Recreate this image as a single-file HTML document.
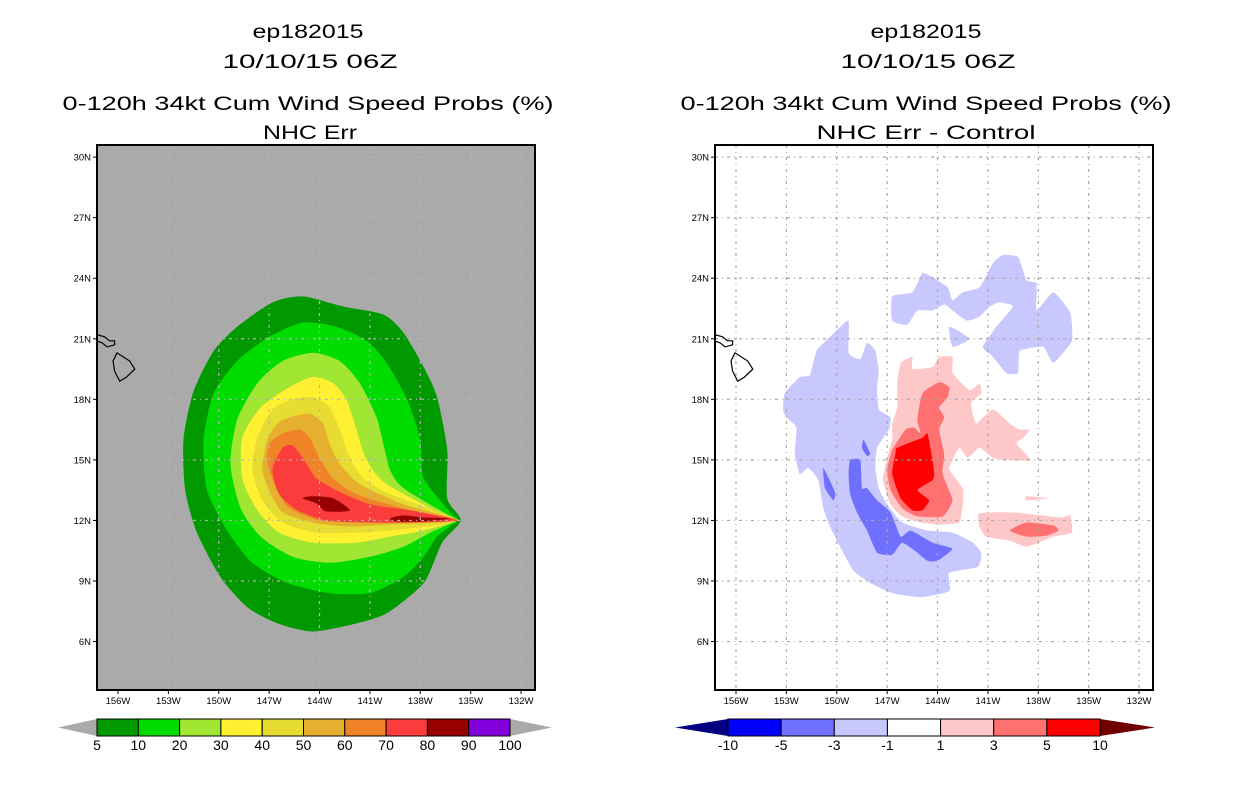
<!DOCTYPE html>
<html><head><meta charset="utf-8"><style>
html,body{margin:0;padding:0;background:#fff;}
svg{display:block;}
text{font-family:"Liberation Sans",sans-serif;}
</style></head><body>
<svg id="root" width="1236" height="800" viewBox="0 0 1236 800" xmlns="http://www.w3.org/2000/svg">
<defs>
<clipPath id="clipL"><rect x="97" y="145" width="438" height="545"/></clipPath>
<clipPath id="clipR"><rect x="715" y="145" width="438" height="545"/></clipPath>
</defs>
<g fill="#000" font-size="19" text-anchor="middle">
<text x="308" y="38" textLength="111" lengthAdjust="spacingAndGlyphs">ep182015</text>
<text x="310" y="68" textLength="175" lengthAdjust="spacingAndGlyphs">10/10/15 06Z</text>
<text x="308" y="110" textLength="491" lengthAdjust="spacingAndGlyphs">0-120h 34kt Cum Wind Speed Probs (%)</text>
<text x="310" y="139" textLength="94" lengthAdjust="spacingAndGlyphs">NHC Err</text>
</g>
<g fill="#000" font-size="19" text-anchor="middle">
<text x="926" y="38" textLength="111" lengthAdjust="spacingAndGlyphs">ep182015</text>
<text x="928" y="68" textLength="175" lengthAdjust="spacingAndGlyphs">10/10/15 06Z</text>
<text x="926" y="110" textLength="491" lengthAdjust="spacingAndGlyphs">0-120h 34kt Cum Wind Speed Probs (%)</text>
<text x="926" y="139" textLength="219" lengthAdjust="spacingAndGlyphs">NHC Err - Control</text>
</g>
<g id="panelL"></g>
<g id="panelR"></g>
<g id="legL"></g>
<g id="legR"></g>
</svg>
<script>
// axis tick values
const lonTicks = [156,153,150,147,144,141,138,135,132];
const latTicks = [30,27,24,21,18,15,12,9,6];
// left panel contour levels (outer to inner), polygons in [lonW, latN]
const probLevels = [5,10,20,30,40,50,60,70,80];
const probColors = ['#009900','#00dc00','#a0e632','#fff032','#e6dc32','#e6af2d','#f08228','#fa3c3c','#960000'];
const prob5 = [[146.8,22.8],[145.0,23.1],[142.6,22.6],[140.2,22.2],[139.0,21.3],[137.8,19.6],[137.0,18.1],[136.4,15.5],[136.4,13.1],[135.6,12.0],[136.7,10.9],[137.8,8.9],[140.0,7.4],[141.8,6.9],[144.4,6.5],[146.5,6.9],[148.3,7.7],[149.9,9.2],[151.3,11.4],[152.0,13.5],[152.1,16.0],[151.5,18.4],[150.3,20.4],[148.9,21.6]];
const prob10 = [[147.0,21.1],[145.0,21.8],[143.0,21.6],[141.2,20.9],[140.0,19.8],[138.8,18.0],[138.0,16.0],[137.8,14.1],[136.2,12.4],[135.8,12.0],[137.0,11.2],[137.8,10.2],[139.0,9.2],[141.0,8.4],[143.4,8.4],[145.9,8.9],[148.0,9.9],[149.5,11.5],[150.7,13.5],[150.9,16.0],[150.3,18.3],[148.9,19.9]];
const prob20 = [[146.2,19.9],[144.4,20.3],[142.8,19.9],[141.6,18.8],[140.6,17.1],[140.2,15.8],[139.8,14.5],[139.0,13.6],[136.2,12.2],[135.8,12.0],[137.4,11.4],[139.0,10.7],[141.0,10.2],[143.4,9.9],[145.6,10.2],[147.5,11.2],[148.7,12.6],[149.3,14.8],[148.9,17.0],[147.7,18.8]];
const prob30 = [[145.8,18.6],[144.4,19.1],[143.2,18.8],[142.4,18.0],[141.8,16.5],[141.2,15.0],[140.0,13.8],[136.2,12.1],[135.8,12.0],[137.8,11.5],[139.8,11.2],[141.8,10.9],[144.4,10.9],[146.4,11.4],[147.7,12.5],[148.6,14.1],[148.6,16.1],[147.5,17.6]];
const prob40 = [[145.6,18.0],[144.4,18.1],[143.4,17.6],[142.8,16.5],[142.2,15.1],[141.4,14.1],[139.8,13.3],[135.8,12.0],[139.8,11.5],[141.8,11.4],[144.2,11.4],[146.2,11.9],[147.4,13.0],[148.0,14.5],[147.7,16.1],[146.8,17.5]];
const prob50 = [[145.8,17.1],[144.6,17.3],[143.8,16.8],[143.4,15.8],[142.8,14.8],[141.6,13.8],[139.0,12.8],[135.8,12.0],[139.8,11.8],[142.2,11.7],[144.4,11.9],[146.2,12.4],[147.0,13.5],[147.4,14.6],[147.1,16.0],[146.5,16.8]];
const prob60 = [[146.2,16.3],[145.2,16.5],[144.6,16.1],[144.0,15.1],[143.2,14.1],[141.8,13.3],[139.0,12.6],[135.8,12.0],[139.4,11.9],[141.8,11.9],[144.0,12.0],[145.8,12.6],[146.5,13.5],[147.1,14.8],[147.0,15.8]];
const prob70 = [[146.2,15.6],[145.6,15.7],[145.0,15.1],[144.2,14.1],[143.0,13.5],[141.0,12.8],[138.6,12.5],[135.8,12.0],[138.6,11.9],[141.0,11.9],[143.6,12.0],[145.3,12.5],[146.4,13.3],[146.8,14.5]];
const prob80a = [[145.0,13.1],[144.4,13.2],[143.2,13.1],[142.2,12.5],[143.6,12.45],[144.2,12.85]];
const prob80b = [[139.8,12.1],[139.0,12.25],[137.8,12.15],[136.2,12.1],[137.8,11.95],[139.4,11.95]];
// right panel difference contours
const diffNeg3 = [[153.2,17.5],[153.1,18.3],[152.2,19.1],[151.6,19.2],[151.2,20.4],[150.4,21.1],[149.3,21.9],[149.3,20.3],[148.6,20.0],[148.2,20.8],[147.7,20.4],[147.5,19.4],[147.6,18.6],[147.5,17.5],[146.8,17.1],[146.9,16.5],[147.6,15.6],[147.7,14.6],[147.5,13.6],[147.0,12.8],[146.1,11.9],[144.6,11.5],[143.1,11.4],[141.9,10.9],[141.4,10.4],[141.6,9.7],[143.3,9.4],[143.3,8.5],[145.0,8.2],[146.7,8.4],[148.0,8.9],[149.0,9.5],[149.8,10.7],[150.4,11.7],[150.8,12.6],[151.1,14.0],[151.7,14.6],[152.2,14.3],[152.5,15.3],[152.4,16.6],[153.0,17.1]];
const diffNeg3Upper = [[146.7,23.1],[145.5,23.3],[144.9,24.25],[144.3,24.05],[143.4,23.55],[143.1,22.9],[142.5,23.3],[141.5,23.55],[140.7,24.75],[140.1,25.15],[139.2,25.05],[138.7,23.9],[138.1,23.75],[138.1,22.4],[137.1,23.3],[136.1,22.3],[136.0,20.9],[137.1,19.8],[137.7,20.6],[139.1,20.4],[139.2,19.3],[139.9,19.3],[140.7,20.1],[141.3,20.6],[140.5,21.6],[139.5,22.6],[140.3,22.8],[140.9,22.6],[141.5,22.1],[142.25,21.9],[143.1,22.4],[143.6,22.7],[144.3,22.4],[145.2,22.4],[145.8,21.7],[146.7,21.9]];
const diffNeg3Piece = [[143.3,21.6],[142.1,21.0],[143.1,20.6]];
const diffNeg5 = [[149.2,15.0],[148.6,15.0],[148.5,13.6],[148.2,13.6],[147.6,13.0],[146.8,12.4],[146.2,11.2],[145.6,11.5],[144.3,10.9],[143.1,10.6],[144.0,10.0],[144.6,10.0],[145.2,10.4],[146.1,10.9],[146.7,10.3],[147.6,10.4],[148.2,11.5],[148.8,12.4],[149.2,13.3],[149.3,14.3]];
const diffNeg5b = [[150.8,14.6],[150.1,13.4],[150.2,13.0],[150.7,13.6]];
const diffNeg5c = [[148.4,16.0],[148.0,15.3],[148.2,15.2],[148.5,15.6]];
const diffPos1 = [[146.4,18.8],[146.2,19.8],[145.5,20.1],[145.5,19.5],[144.3,19.6],[143.9,20.1],[143.1,20.1],[143.1,19.3],[142.1,18.45],[141.5,18.8],[141.4,18.3],[142.0,17.8],[141.7,16.8],[140.7,17.5],[139.7,16.8],[139.1,16.5],[138.5,16.5],[138.9,16.1],[139.3,15.8],[138.5,15.0],[140.1,15.0],[140.7,15.1],[141.5,15.6],[142.2,15.1],[142.7,15.6],[143.1,15.0],[143.3,14.5],[142.5,13.6],[142.5,12.8],[142.7,11.9],[143.9,11.8],[145.0,11.9],[146.1,12.2],[146.8,12.8],[147.25,14.0],[147.0,15.1],[146.7,16.0],[146.7,16.8],[146.4,17.6]];
const diffPos1b = [[141.5,12.35],[139.5,12.4],[136.7,12.15],[136.1,12.25],[136.0,11.4],[137.1,11.2],[138.7,10.7],[139.7,11.0],[141.1,11.2],[141.5,11.7]];
const diffPos1c = [[138.7,13.2],[137.4,13.1],[138.7,13.0]];
const diffPos3 = [[146.7,15.5],[145.9,16.5],[145.4,16.6],[145.0,16.3],[145.2,17.0],[144.9,18.3],[143.9,18.85],[143.3,18.6],[143.4,18.1],[143.9,17.6],[143.6,17.1],[143.9,16.5],[143.6,15.3],[143.7,14.3],[143.1,13.0],[143.7,12.2],[145.2,12.2],[146.1,12.6],[146.8,13.5],[147.0,14.5]];
const diffPos3b = [[139.7,11.5],[138.7,11.9],[137.1,11.75],[136.8,11.5],[137.5,11.25],[138.7,11.2]];
const diffPos5 = [[146.4,15.6],[144.9,16.1],[144.6,16.3],[144.3,15.0],[144.2,14.3],[144.3,14.0],[145.2,13.5],[144.5,13.0],[144.9,12.5],[145.5,12.5],[146.2,13.1],[146.7,14.3],[146.5,15.3]];
// Hawaii coastline
const bigIsland = [[156.06,20.3],[155.3,19.9],[155.0,19.5],[155.5,19.1],[155.9,18.9],[156.2,19.4],[156.3,19.9]];
const mauiGroup = [[157.25,21.2],[156.8,21.1],[156.5,20.9],[156.2,20.9],[156.2,20.7],[156.65,20.6],[156.95,20.8],[157.3,20.9]];
// colorbar labels
const probLabels = ['5','10','20','30','40','50','60','70','80','90','100'];
const probBarColors = ['#009900','#00dc00','#a0e632','#fff032','#e6dc32','#e6af2d','#f08228','#fa3c3c','#960000','#8200dc'];
const diffLabels = ['-10','-5','-3','-1','1','3','5','10'];
const diffBarColors = ['#0000ff','#7070ff','#c8c8ff','#ffffff','#ffc8c8','#ff7070','#ff0000'];

const NS='http://www.w3.org/2000/svg';
function mk(tag,attrs,parent){const e=document.createElementNS(NS,tag);for(const k in attrs)e.setAttribute(k,attrs[k]);parent.appendChild(e);return e;}
const W0=157.25,W1=131.17,N0=30.6,N1=3.6,PW=438,PH=545,PY=145;
function xScale(ox,lonW){return ox+(W0-lonW)/(W0-W1)*PW;}
function yScale(lat){return PY+(N0-lat)/(N0-N1)*PH;}
function pts(ox,poly){return poly.map(p=>xScale(ox,p[0]).toFixed(1)+','+yScale(p[1]).toFixed(1)).join(' ');}
function smoothPath(ox,poly,t){
  const P=poly.map(p=>[xScale(ox,p[0]),yScale(p[1])]);const n=P.length;
  let d='M'+P[0][0].toFixed(1)+','+P[0][1].toFixed(1);
  for(let i=0;i<n;i++){
    const p0=P[(i-1+n)%n],p1=P[i],p2=P[(i+1)%n],p3=P[(i+2)%n];
    const c1=[p1[0]+(p2[0]-p0[0])*t,p1[1]+(p2[1]-p0[1])*t];
    const c2=[p2[0]-(p3[0]-p1[0])*t,p2[1]-(p3[1]-p1[1])*t];
    d+=' C'+c1[0].toFixed(1)+','+c1[1].toFixed(1)+' '+c2[0].toFixed(1)+','+c2[1].toFixed(1)+' '+p2[0].toFixed(1)+','+p2[1].toFixed(1);
  }
  return d+'Z';
}

function drawPanel(gid,ox,clip,bg,gridCol,fills,smooth){
  const g=document.getElementById(gid);
  const bgR=mk('rect',{x:ox,y:PY,width:PW,height:PH,fill:bg},g);
  
  
  const cg=mk('g',{'clip-path':'url(#'+clip+')'},g);
  
  
  fills.forEach(f=>{
    const p=mk('path',{d:smoothPath(ox,f.poly,smooth),fill:f.color},cg);
    
    
  });
  const gg=mk('g',{stroke:gridCol,'stroke-width':1.2,'stroke-dasharray':'3,4,1,4',fill:'none'},g);
  
  
  lonTicks.forEach(l=>{const x=xScale(ox,l);const ln=mk('line',{x1:x,x2:x,y1:PY,y2:PY+PH},gg);
    
    });
  latTicks.forEach(l=>{const y=yScale(l);const ln=mk('line',{x1:ox,x2:ox+PW,y1:y,y2:y},gg);
    
    });
  const coast=mk('g',{'clip-path':'url(#'+clip+')',fill:'none',stroke:'#000','stroke-width':1.2},g);
  
  
  [bigIsland,mauiGroup].forEach(isl=>{const p=mk('polygon',{points:pts(ox,isl)},coast);
    
    });
  const fr=mk('rect',{x:ox,y:PY,width:PW,height:PH,fill:'none',stroke:'#000','stroke-width':2},g);
  
  
  const ax=mk('g',{'font-size':9.5,fill:'#000'},g);
  
  
  lonTicks.forEach(l=>{const x=xScale(ox,l);
    const t=mk('text',{x:x,y:PY+PH+14,'text-anchor':'middle'},ax);t.textContent=l+'W';
    
    
    const tk=mk('line',{x1:x,x2:x,y1:PY+PH,y2:PY+PH+4,stroke:'#000'},ax);
    
    });
  latTicks.forEach(l=>{const y=yScale(l);
    const t=mk('text',{x:ox-6,y:y+3.5,'text-anchor':'end'},ax);t.textContent=l+'N';
    
    
    const tk=mk('line',{x1:ox-4,x2:ox,y1:y,y2:y,stroke:'#000'},ax);
    
    });
}
const probPolys=[prob5,prob10,prob20,prob30,prob40,prob50,prob60,prob70];
const leftFills=probPolys.map((p,i)=>({poly:p,color:probColors[i],name:'prob-'+probLevels[i]+'-contour'}));
leftFills.push({poly:prob80a,color:probColors[8],name:'prob-80-contour'});
leftFills.push({poly:prob80b,color:probColors[8],name:'prob-80-contour'});
drawPanel('panelL',97,'clipL','#aaaaaa','#b4b4b4',leftFills,0.12);
const rightFills=[
 {poly:diffNeg3,color:'#c8c8ff',name:'diff-neg1-contour'},
 {poly:diffNeg3Upper,color:'#c8c8ff',name:'diff-neg1-contour'},
 {poly:diffNeg3Piece,color:'#c8c8ff',name:'diff-neg1-contour'},
 {poly:diffNeg5,color:'#7070ff',name:'diff-neg3-contour'},
 {poly:diffNeg5b,color:'#7070ff',name:'diff-neg3-contour'},
 {poly:diffNeg5c,color:'#7070ff',name:'diff-neg3-contour'},
 {poly:diffPos1,color:'#ffc8c8',name:'diff-pos1-contour'},
 {poly:diffPos1b,color:'#ffc8c8',name:'diff-pos1-contour'},
 {poly:diffPos1c,color:'#ffc8c8',name:'diff-pos1-contour'},
 {poly:diffPos3,color:'#ff7070',name:'diff-pos3-contour'},
 {poly:diffPos3b,color:'#ff7070',name:'diff-pos3-contour'},
 {poly:diffPos5,color:'#ff0000',name:'diff-pos5-contour'}];
drawPanel('panelR',715,'clipR','#ffffff','#a8a8a8',rightFills,0.08);

function drawBar(gid,x0,x1,tl,tr,colors,labels,lcol,rcol){
  const g=document.getElementById(gid);
  const y0=719,h=17,n=colors.length,w=(x1-x0)/n;
  const a=mk('polygon',{points:`${tl},${y0+h/2} ${x0},${y0} ${x0},${y0+h}`,fill:lcol},g);
  
  
  const b=mk('polygon',{points:`${tr},${y0+h/2} ${x1},${y0} ${x1},${y0+h}`,fill:rcol},g);
  
  
  colors.forEach((c,i)=>{const r=mk('rect',{x:x0+i*w,y:y0,width:w,height:h,fill:c,stroke:'#000','stroke-width':1},g);
    
    });
  labels.forEach((l,i)=>{const t=mk('text',{x:x0+i*w,y:y0+h+14,'text-anchor':'middle','font-size':14,fill:'#000'},g);
    t.textContent=l;
    
    });
}
drawBar('legL',97,510,58,552,probBarColors,probLabels,'#aaaaaa','#aaaaaa');
drawBar('legR',728,1100,675,1155,diffBarColors,diffLabels,'#000080','#700000');
</script>
</body></html>
